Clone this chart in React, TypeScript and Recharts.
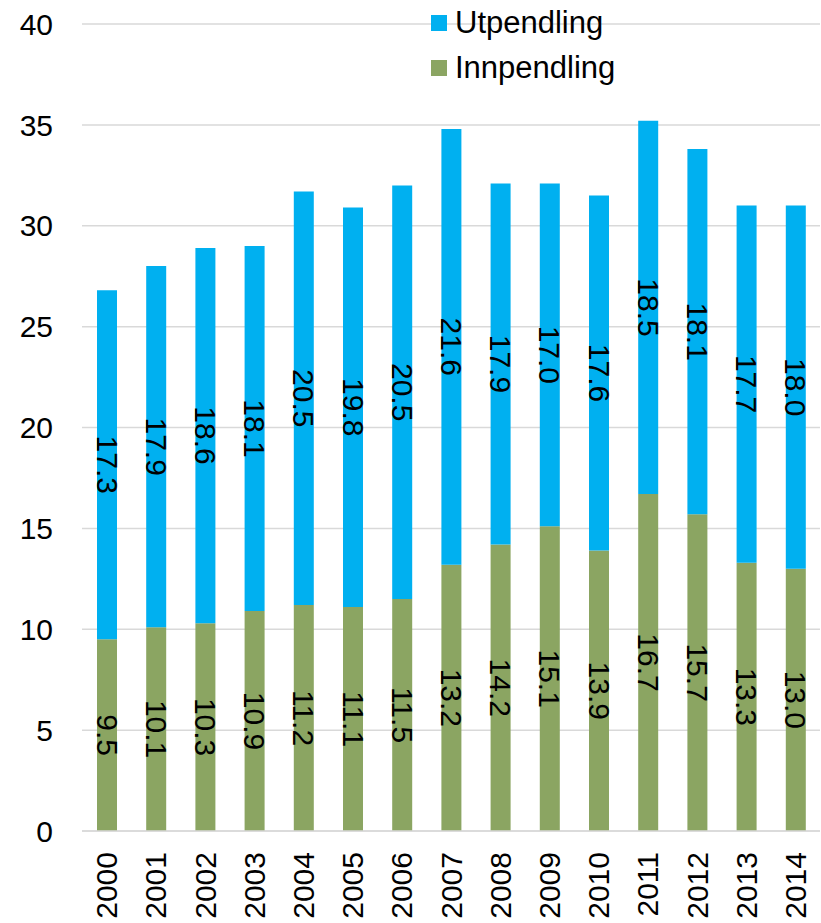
import React from 'react';
import { BarChart, Bar, XAxis, YAxis, CartesianGrid, Legend, LabelList } from 'recharts';

const years = ['2000', '2001', '2002', '2003', '2004', '2005', '2006', '2007', '2008', '2009', '2010', '2011', '2012', '2013', '2014'];
const innpendling = [9.5, 10.1, 10.3, 10.9, 11.2, 11.1, 11.5, 13.2, 14.2, 15.1, 13.9, 16.7, 15.7, 13.3, 13.0];
const utpendling = [17.3, 17.9, 18.6, 18.1, 20.5, 19.8, 20.5, 21.6, 17.9, 17.0, 17.6, 18.5, 18.1, 17.7, 18.0];
const yTicks = [0, 5, 10, 15, 20, 25, 30, 35, 40];

const data = years.map((year, i) => ({
  year,
  Innpendling: innpendling[i],
  Utpendling: utpendling[i],
}));

const FONT = '"Liberation Sans", Arial, sans-serif';
const BLUE = '#00B0F0';
const GREEN = '#8BA562';

// data label, turned to read top-down, centred in its segment
const RotatedLabel = (props: any) => {
  const { x, y, width, height, value } = props;
  const cx = x + width / 2;
  const cy = y + height / 2;
  return (
    <text
      x={cx}
      y={cy}
      transform={`rotate(90, ${cx}, ${cy})`}
      textAnchor="middle"
      dominantBaseline="central"
      fontSize={30}
      fontFamily={FONT}
      fill="#000"
    >
      {Number(value).toFixed(1)}
    </text>
  );
};

const YearTick = (props: any) => {
  const { x, payload } = props;
  const y = 852;
  return (
    <text
      x={x}
      y={y}
      transform={`rotate(-90, ${x}, ${y})`}
      textAnchor="end"
      dominantBaseline="central"
      fontSize={30}
      fontFamily={FONT}
      fill="#000"
    >
      {payload.value}
    </text>
  );
};

const legendItems = [
  { name: 'Utpendling', color: BLUE },
  { name: 'Innpendling', color: GREEN },
];

const LegendBox = () => (
  <div style={{ fontFamily: FONT, fontSize: 31, color: '#000' }}>
    {legendItems.map((item) => (
      <div key={item.name} style={{ display: 'flex', alignItems: 'center', height: 45 }}>
        <span style={{ width: 16, height: 16, background: item.color, display: 'inline-block', marginRight: 8 }} />
        <span>{item.name}</span>
      </div>
    ))}
  </div>
);

export default function App() {
  return (
    <div style={{ position: 'absolute', left: 0, top: 0, background: '#fff' }}>
      <BarChart
        width={821}
        height={923}
        data={data}
        margin={{ top: 24, right: 1, left: 0, bottom: 0 }}
        barSize={20}
      >
        <CartesianGrid vertical={false} stroke="#D9D9D9" strokeWidth={1.5} />
        <XAxis
          dataKey="year"
          height={92}
          tick={<YearTick />}
          tickLine={false}
          axisLine={{ stroke: '#D9D9D9', strokeWidth: 1.5 }}
          interval={0}
        />
        <YAxis
          width={82}
          domain={[0, 40]}
          ticks={yTicks}
          tickLine={false}
          axisLine={false}
          tickSize={0}
          tickMargin={29}
          tick={{ fontSize: 30, fill: '#000', fontFamily: FONT }}
          interval={0}
        />
        <Legend
          layout="vertical"
          align="center"
          verticalAlign="middle"
          content={<LegendBox />}
          wrapperStyle={{ position: 'absolute', left: 431, top: 0, width: 'auto', height: 'auto' }}
        />
        <Bar dataKey="Innpendling" stackId="a" fill={GREEN} isAnimationActive={false}>
          <LabelList dataKey="Innpendling" content={<RotatedLabel />} />
        </Bar>
        <Bar dataKey="Utpendling" stackId="a" fill={BLUE} isAnimationActive={false}>
          <LabelList dataKey="Utpendling" content={<RotatedLabel />} />
        </Bar>
      </BarChart>
    </div>
  );
}
